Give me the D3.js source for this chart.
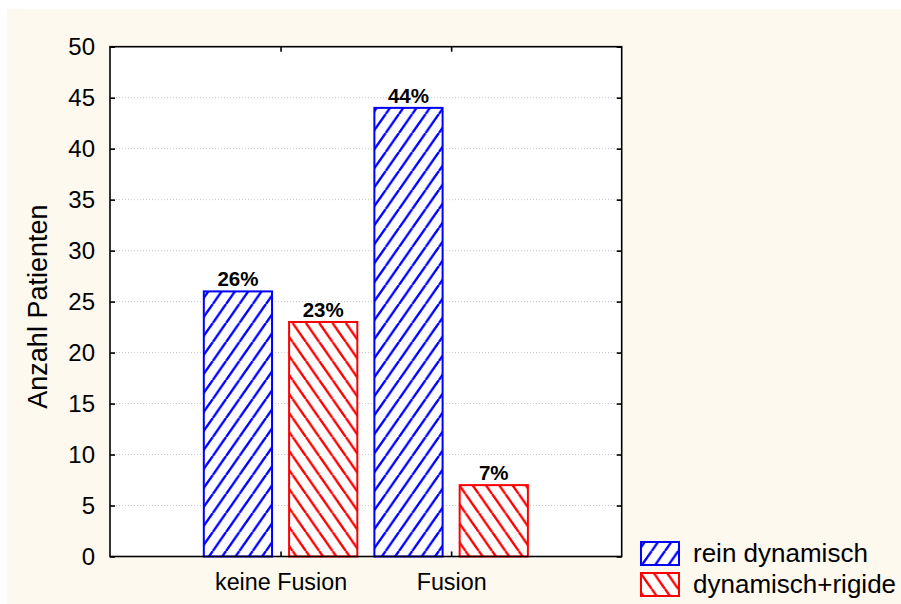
<!DOCTYPE html>
<html>
<head>
<meta charset="utf-8">
<script src="https://cdn.jsdelivr.net/npm/d3@7"></script>
<style>
  html, body { margin: 0; padding: 0; background: #ffffff; }
  svg { display: block; font-family: "Liberation Sans", Arial, sans-serif; }
</style>
</head>
<body>
<svg id="chart" width="901" height="604"></svg>
<script>
// Patient counts per fusion outcome and implant type
const categories = ["keine Fusion", "Fusion"];
const seriesNames = ["rein dynamisch", "dynamisch+rigide"];
const reinDynamisch = [26, 44];
const dynamischRigide = [23, 7];
const percentLabelsRein = ["26%", "44%"];
const percentLabelsRigide = ["23%", "7%"];
const yTicks = [0, 5, 10, 15, 20, 25, 30, 35, 40, 45, 50];
const yTitle = "Anzahl Patienten";

const seriesColors = ["#0000ff", "#ff0000"];
const seriesPatterns = ["hatchForward", "hatchBack"];

const svg = d3.select("#chart");
const W = 901, H = 604;
const plot = { left: 110, right: 621.7, top: 46.7, bottom: 556.5 };

// page background
svg.append("rect").attr("x", 0).attr("y", 0).attr("width", W).attr("height", H).attr("fill", "#ffffff");
svg.append("rect").attr("x", 7).attr("y", 9).attr("width", W - 7).attr("height", H - 9).attr("fill", "#fdf9ef");

// hatch patterns
const defs = svg.append("defs");
const pw = 13.3, ph = 19;
function makePattern(id, color, forward) {
  const p = defs.append("pattern")
    .attr("id", id)
    .attr("patternUnits", "userSpaceOnUse")
    .attr("width", pw).attr("height", ph);
  p.append("rect").attr("width", pw).attr("height", ph).attr("fill", "#ffffff");
  [-pw, 0, pw].forEach(off => {
    p.append("line")
      .attr("x1", off).attr("y1", forward ? ph : 0)
      .attr("x2", off + pw).attr("y2", forward ? 0 : ph)
      .attr("stroke", color).attr("stroke-width", 2.4);
  });
}
makePattern("hatchForward", seriesColors[0], true);
makePattern("hatchBack", seriesColors[1], false);

const x = d3.scaleLinear().domain([0, categories.length + 1]).range([plot.left, plot.right]);
const y = d3.scaleLinear().domain([0, 50]).range([plot.bottom, plot.top]);

// plot area
svg.append("rect")
  .attr("x", plot.left).attr("y", plot.top)
  .attr("width", plot.right - plot.left).attr("height", plot.bottom - plot.top)
  .attr("fill", "#ffffff");

// dotted grid
svg.append("g").selectAll("line")
  .data(yTicks.filter(t => t > 0 && t < 50))
  .join("line")
  .attr("x1", plot.left).attr("x2", plot.right)
  .attr("y1", d => y(d)).attr("y2", d => y(d))
  .attr("stroke", "#c8c8c8").attr("stroke-width", 1).attr("stroke-dasharray", "1,2");

// bars
const barW = 0.4, barGap = 0.05;
const series = [reinDynamisch, dynamischRigide];
const labels = [percentLabelsRein, percentLabelsRigide];
series.forEach((vals, si) => {
  const g = svg.append("g");
  vals.forEach((v, ci) => {
    const c = ci + 1;
    const x0 = si === 0 ? x(c - barGap - barW) : x(c + barGap);
    const x1 = si === 0 ? x(c - barGap) : x(c + barGap + barW);
    g.append("rect")
      .attr("x", x0).attr("y", y(v))
      .attr("width", x1 - x0).attr("height", y(0) - y(v))
      .attr("fill", `url(#${seriesPatterns[si]})`)
      .attr("stroke", seriesColors[si]).attr("stroke-width", 2);
    g.append("text")
      .attr("x", (x0 + x1) / 2).attr("y", y(v) - 5)
      .attr("text-anchor", "middle")
      .attr("font-size", 20.5).attr("font-weight", "bold")
      .attr("fill", "#000")
      .text(labels[si][ci]);
  });
});

// frame
svg.append("rect")
  .attr("x", plot.left).attr("y", plot.top)
  .attr("width", plot.right - plot.left).attr("height", plot.bottom - plot.top)
  .attr("fill", "none").attr("stroke", "#000").attr("stroke-width", 1.6);

function styleAxis(g) {
  g.select(".domain").remove();
  g.selectAll(".tick line").attr("stroke", "#000").attr("stroke-width", 1.6);
  g.selectAll(".tick text").attr("fill", "#000").attr("font-family", "Liberation Sans, Arial, sans-serif");
}

// left axis
svg.append("g")
  .attr("transform", `translate(${plot.left},0)`)
  .call(d3.axisLeft(y).tickValues(yTicks).tickSize(-5).tickPadding(15))
  .call(styleAxis)
  .selectAll(".tick text").attr("font-size", 24);

// right axis (ticks only)
svg.append("g")
  .attr("transform", `translate(${plot.right},0)`)
  .call(d3.axisRight(y).tickValues(yTicks).tickSize(-5).tickFormat(""))
  .call(styleAxis);

// top axis (ticks only)
svg.append("g")
  .attr("transform", `translate(0,${plot.top})`)
  .call(d3.axisTop(x).tickValues(categories.map((d, i) => i + 1)).tickSize(-5).tickFormat(""))
  .call(styleAxis);

// bottom axis with category names
svg.append("g")
  .attr("transform", `translate(0,${plot.bottom})`)
  .call(d3.axisBottom(x).tickValues(categories.map((d, i) => i + 1))
    .tickFormat(d => categories[d - 1]).tickSize(-5).tickPadding(17))
  .call(styleAxis)
  .selectAll(".tick text").attr("font-size", 23.3);

// y-axis title
svg.append("text")
  .attr("transform", `translate(47,${(plot.top + plot.bottom) / 2 + 5}) rotate(-90)`)
  .attr("text-anchor", "middle")
  .attr("font-size", 27)
  .attr("fill", "#000")
  .text(yTitle);

// legend
const legend = svg.append("g");
seriesNames.forEach((name, i) => {
  const ly = 542 + i * 31;
  legend.append("rect")
    .attr("x", 641).attr("y", ly).attr("width", 38).attr("height", 23)
    .attr("fill", `url(#${seriesPatterns[i]})`)
    .attr("stroke", seriesColors[i]).attr("stroke-width", 2);
  legend.append("text")
    .attr("x", 693).attr("y", ly + 20)
    .attr("font-size", 26).attr("fill", "#000")
    .text(name);
});
</script>
</body>
</html>
